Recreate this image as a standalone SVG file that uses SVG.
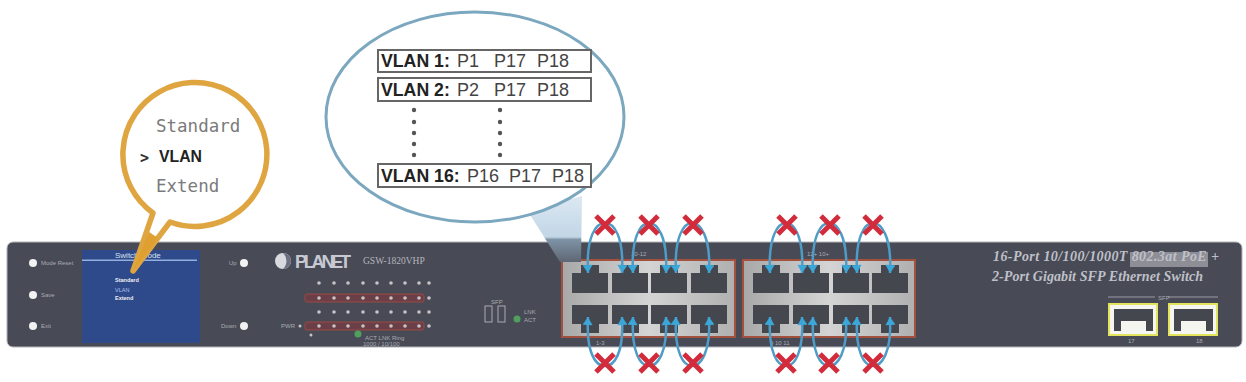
<svg xmlns="http://www.w3.org/2000/svg" width="1246" height="382" viewBox="0 0 1246 382">
  <style>
    text { font-family: "Liberation Sans", Arial, sans-serif; }
    .led { fill: #f2f2f2; }
    .tiny { fill: #a9aab2; font-size: 6px; }
    .dot { fill: #c9c3c6; }
    .band { fill: #6a3f48; stroke: #9c4a44; stroke-width: 1; }
    .panel { fill: url(#silver); stroke: #a4503f; stroke-width: 2; }
    .port { fill: #45474f; }
    .sfp { fill: #f6f6f0; stroke: #e4e45c; stroke-width: 2; }
    .vbox { fill: #fff; stroke: #666; stroke-width: 2; }
    .vb { font-size: 17.7px; font-weight: bold; fill: #222; }
    .vn { font-size: 18px; fill: #444; }
    .vdot { fill: #555; }
    .mono { font-family: "DejaVu Sans Mono", "Liberation Mono", monospace; font-size: 17.5px; fill: #7a7a7a; }
    .arc { fill: none; stroke: #4f9cc6; stroke-width: 2.5; marker-start: url(#head); marker-end: url(#head); }
    .cross { fill: none; stroke: #d22c3c; stroke-width: 5; }
    .title { font-family: "Liberation Serif", "Times New Roman", serif; font-style: italic; font-weight: bold; font-size: 14px; fill: #bfc0c8; }
  </style>
  <defs>
    <linearGradient id="silver" x1="0" y1="0" x2="1" y2="0">
      <stop offset="0" stop-color="#a8a8a8"/>
      <stop offset="0.5" stop-color="#d4d4d4"/>
      <stop offset="1" stop-color="#b0b0b0"/>
    </linearGradient>
    <linearGradient id="beam" x1="0" y1="0" x2="0" y2="1">
      <stop offset="0" stop-color="#dbe8f2"/>
      <stop offset="0.62" stop-color="#c2d6e6"/>
      <stop offset="0.66" stop-color="#7e93a6"/>
      <stop offset="1" stop-color="#5e6674"/>
    </linearGradient>
    <marker id="head" viewBox="0 0 8 10" refX="8" refY="5" markerWidth="9" markerHeight="10" markerUnits="userSpaceOnUse" orient="auto-start-reverse">
      <path d="M0 0L8 5L0 10Z" fill="#3ba6d8"/>
    </marker>
    <path id="portTop" d="M0 8H9V0H27V8H36V28H0Z"/>
    <path id="portBottom" d="M0 0H36V19H27V28H9V19H0Z"/>
    <path id="x" d="M-9 -9L9 9M9 -9L-9 9"/>
  </defs>

  <rect width="1246" height="382" fill="#fff"/>

  <g id="chassis">
    <rect x="7" y="242" width="1235" height="105" rx="6" fill="#484a56" stroke="#b4b5ba" stroke-width="1"/>
  </g>

  <g id="status-leds">
    <circle class="led" cx="33" cy="263" r="4"/>
    <text class="tiny" x="41" y="265">Mode Reset</text>
    <circle class="led" cx="33" cy="295" r="4"/>
    <text class="tiny" x="41" y="297">Save</text>
    <circle class="led" cx="33" cy="326" r="4"/>
    <text class="tiny" x="41" y="328">Exit</text>
    <text class="tiny" x="229" y="265">Up</text>
    <circle class="led" cx="244" cy="263" r="4"/>
    <text class="tiny" x="221" y="328">Down</text>
    <circle class="led" cx="244" cy="326" r="4"/>
  </g>

  <g id="lcd-screen">
    <rect x="82" y="250" width="118" height="93" fill="#2f4a8b"/>
    <rect x="82" y="259.500" width="115" height="1.500" fill="#94aee0"/>
    <text x="115" y="258" font-size="8" fill="#d8e0f0">Switch Mode</text>
    <text x="115" y="282" font-size="5.500" font-weight="bold" fill="#f0f0f0">Standard</text>
    <text x="115" y="292" font-size="5.500" fill="#a8c4e8">VLAN</text>
    <text x="115" y="300" font-size="5.500" font-weight="bold" fill="#f0f0f0">Extend</text>
  </g>

  <g id="brand">
    <circle cx="283" cy="261" r="8" fill="#d8dae0"/>
    <path d="M283 253a8 8 0 0 1 0 16a11 11 0 0 0 0-16Z" fill="#6d7080"/>
    <text x="295" y="268" font-size="18" font-weight="bold" fill="#c7c9d2" textLength="56">PLANET</text>
    <text x="363" y="264" font-size="9.500" fill="#b5b6bd" style="font-family:'Liberation Serif',serif">GSW-1820VHP</text>
  </g>

  <g id="port-leds">
    <rect class="band" x="305" y="294" width="119" height="8" rx="2"/>
    <rect class="band" x="305" y="322" width="119" height="8" rx="2"/>
    <g class="dot">
      <circle cx="319" cy="283" r="1.800"/><circle cx="334" cy="283" r="1.800"/><circle cx="348" cy="283" r="1.800"/><circle cx="363" cy="283" r="1.800"/><circle cx="377" cy="283" r="1.800"/><circle cx="391" cy="283" r="1.800"/><circle cx="405" cy="283" r="1.800"/><circle cx="419" cy="283" r="1.800"/><circle cx="429" cy="283" r="1.800"/>
      <circle cx="319" cy="298" r="1.800"/><circle cx="334" cy="298" r="1.800"/><circle cx="348" cy="298" r="1.800"/><circle cx="363" cy="298" r="1.800"/><circle cx="377" cy="298" r="1.800"/><circle cx="391" cy="298" r="1.800"/><circle cx="405" cy="298" r="1.800"/><circle cx="419" cy="298" r="1.800"/><circle cx="429" cy="298" r="1.800"/>
      <circle cx="319" cy="312" r="1.800"/><circle cx="334" cy="312" r="1.800"/><circle cx="348" cy="312" r="1.800"/><circle cx="363" cy="312" r="1.800"/><circle cx="377" cy="312" r="1.800"/><circle cx="391" cy="312" r="1.800"/><circle cx="405" cy="312" r="1.800"/><circle cx="419" cy="312" r="1.800"/><circle cx="429" cy="312" r="1.800"/>
      <circle cx="319" cy="326" r="1.800"/><circle cx="334" cy="326" r="1.800"/><circle cx="348" cy="326" r="1.800"/><circle cx="363" cy="326" r="1.800"/><circle cx="377" cy="326" r="1.800"/><circle cx="391" cy="326" r="1.800"/><circle cx="405" cy="326" r="1.800"/><circle cx="419" cy="326" r="1.800"/><circle cx="429" cy="326" r="1.800"/>
    </g>
    <text class="tiny" x="281" y="328">PWR</text>
    <circle class="dot" cx="300" cy="326" r="1.500"/>
    <circle class="dot" cx="311" cy="335" r="1.500"/>
    <circle cx="358" cy="334" r="3.500" fill="#4fa05c"/>
    <text class="tiny" x="365" y="340">ACT LNK  Ring</text>
    <text class="tiny" x="363" y="346">1000 / 10/100</text>
  </g>

  <g id="sfp-leds">
    <rect x="485" y="306" width="7" height="16" fill="none" stroke="#a9aab2" stroke-width="1"/>
    <rect x="498" y="306" width="7" height="16" fill="none" stroke="#a9aab2" stroke-width="1"/>
    <text class="tiny" x="491" y="304" font-size="5">SFP</text>
    <circle cx="517" cy="319" r="3.500" fill="#4fa05c"/>
    <text class="tiny" x="524" y="314">LNK</text>
    <text class="tiny" x="524" y="322">ACT</text>
  </g>

  <g id="copper-ports-1-8">
    <rect class="panel" x="562" y="260" width="173" height="77"/>
    <use class="port" href="#portTop" x="572" y="265"/><use class="port" href="#portTop" x="612" y="265"/><use class="port" href="#portTop" x="651" y="265"/><use class="port" href="#portTop" x="691" y="265"/>
    <use class="port" href="#portBottom" x="572" y="305"/><use class="port" href="#portBottom" x="612" y="305"/><use class="port" href="#portBottom" x="651" y="305"/><use class="port" href="#portBottom" x="691" y="305"/>
    <text class="tiny" x="631" y="256">10-12</text>
    <text class="tiny" x="596" y="345">1-3</text>
  </g>

  <g id="copper-ports-9-16">
    <rect class="panel" x="743" y="260" width="172" height="77"/>
    <use class="port" href="#portTop" x="753" y="265"/><use class="port" href="#portTop" x="793" y="265"/><use class="port" href="#portTop" x="833" y="265"/><use class="port" href="#portTop" x="872" y="265"/>
    <use class="port" href="#portBottom" x="753" y="305"/><use class="port" href="#portBottom" x="793" y="305"/><use class="port" href="#portBottom" x="833" y="305"/><use class="port" href="#portBottom" x="872" y="305"/>
    <text class="tiny" x="807" y="256">12+  10+</text>
    <text class="tiny" x="770" y="345">9 10 11</text>
  </g>

  <g id="product-title">
    <rect x="1130" y="252" width="78" height="15" fill="#8d8e96"/>
    <text class="title" x="993" y="261" textLength="226" lengthAdjust="spacing">16-Port 10/100/1000T 802.3at PoE +</text>
    <text class="title" x="992" y="281" textLength="211" lengthAdjust="spacing">2-Port Gigabit SFP Ethernet Switch</text>
  </g>

  <g id="sfp-ports">
    <path d="M1108 297H1155M1168 297H1218" stroke="#9a9aa6" stroke-width="1.200"/>
    <text class="tiny" x="1158" y="300" font-size="5">SFP</text>
    <rect class="sfp" x="1109" y="304" width="48" height="31"/>
    <path class="port" d="M1114 309H1153V331H1146V321H1121V331H1114Z"/>
    <rect class="sfp" x="1169" y="304" width="48" height="31"/>
    <path class="port" d="M1174 309H1213V331H1206V321H1181V331H1174Z"/>
    <text class="tiny" x="1128" y="343">17</text>
    <text class="tiny" x="1196" y="343">18</text>
  </g>

  <g id="connectors">
    <path class="arc" d="M588 273C586 236 596 223 605 223C614 223 624 236 622 273"/>
    <path class="arc" d="M633 273C631 236 641 223 649 223C657 223 668 236 666 273"/>
    <path class="arc" d="M676 273C674 236 684 223 692 223C700 223 711 236 709 273"/>
    <path class="arc" d="M770 273C768 236 778 223 786 223C794 223 804 236 802 273"/>
    <path class="arc" d="M813 273C811 236 821 223 829 223C837 223 848 236 846 273"/>
    <path class="arc" d="M857 273C855 236 865 223 873 223C881 223 892 236 890 273"/>
    <path class="arc" d="M588 317C586 354 596 366 605 366C614 366 624 354 622 317"/>
    <path class="arc" d="M633 317C631 354 641 366 649 366C657 366 668 354 666 317"/>
    <path class="arc" d="M676 317C674 354 684 366 692 366C700 366 711 354 709 317"/>
    <path class="arc" d="M770 317C768 354 778 366 786 366C794 366 804 354 802 317"/>
    <path class="arc" d="M813 317C811 354 821 366 829 366C837 366 848 354 846 317"/>
    <path class="arc" d="M857 317C855 354 865 366 873 366C881 366 892 354 890 317"/>
  </g>

  <g id="blocked-marks">
    <use class="cross" href="#x" x="605" y="225"/><use class="cross" href="#x" x="649" y="225"/><use class="cross" href="#x" x="693" y="225"/>
    <use class="cross" href="#x" x="787" y="225"/><use class="cross" href="#x" x="830" y="225"/><use class="cross" href="#x" x="873" y="225"/>
    <use class="cross" href="#x" x="605" y="363"/><use class="cross" href="#x" x="649" y="363"/><use class="cross" href="#x" x="693" y="363"/>
    <use class="cross" href="#x" x="786" y="363"/><use class="cross" href="#x" x="829" y="363"/><use class="cross" href="#x" x="873" y="363"/>
  </g>

  <g id="mode-callout">
    <path d="M153 213L133 271L170 222A72 72 0 1 0 153 213Z" fill="#fff" stroke="#dfa540" stroke-width="5.500" stroke-linejoin="round"/>
    <path d="M149 232L133 271L158 238Z" fill="#e0a030"/>
    <text class="mono" x="156" y="132">Standard</text>
    <text x="140" y="163" font-size="15" font-weight="bold" fill="#333" style="font-family:'DejaVu Sans Mono',monospace">&gt;</text>
    <text x="159" y="162" font-size="15.800" font-weight="bold" fill="#222">VLAN</text>
    <text class="mono" x="156" y="192">Extend</text>
  </g>

  <g id="vlan-callout">
    <path d="M527 210L582 196L581 262L560 262Z" fill="url(#beam)"/>
    <ellipse cx="475" cy="117" rx="149" ry="105" fill="#fff" stroke="#7ba7bf" stroke-width="3"/>
    <rect class="vbox" x="378" y="50" width="213" height="22"/>
    <text class="vb" x="381" y="67">VLAN 1:</text>
    <text class="vn" x="457" y="67">P1</text><text class="vn" x="494" y="67">P17</text><text class="vn" x="537" y="67">P18</text>
    <rect class="vbox" x="378" y="78" width="213" height="23"/>
    <text class="vb" x="381" y="96">VLAN 2:</text>
    <text class="vn" x="457" y="96">P2</text><text class="vn" x="494" y="96">P17</text><text class="vn" x="537" y="96">P18</text>
    <g class="vdot">
      <circle cx="414" cy="110" r="2.200"/><circle cx="414" cy="122" r="2.200"/><circle cx="414" cy="133" r="2.200"/><circle cx="414" cy="144" r="2.200"/><circle cx="414" cy="155" r="2.200"/>
      <circle cx="500" cy="110" r="2.200"/><circle cx="500" cy="122" r="2.200"/><circle cx="500" cy="133" r="2.200"/><circle cx="500" cy="144" r="2.200"/><circle cx="500" cy="155" r="2.200"/>
    </g>
    <rect class="vbox" x="378" y="164" width="213" height="23"/>
    <text class="vb" x="381" y="182">VLAN 16:</text>
    <text class="vn" x="467" y="182">P16</text><text class="vn" x="509" y="182">P17</text><text class="vn" x="552" y="182">P18</text>
  </g>
</svg>
